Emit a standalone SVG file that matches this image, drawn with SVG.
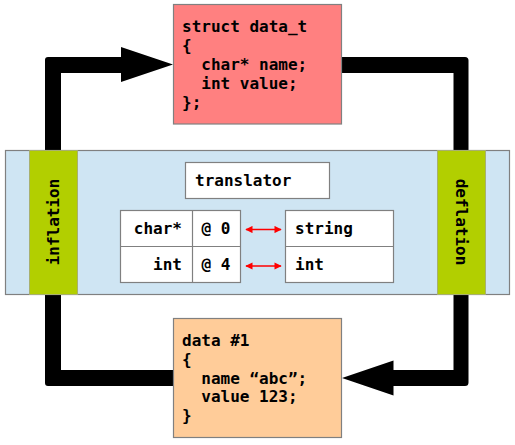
<svg xmlns="http://www.w3.org/2000/svg" width="515" height="445" viewBox="0 0 515 445">
<defs>
<style>
.t{font-family:"DejaVu Sans Mono","Liberation Mono",monospace;font-weight:bold;font-size:16px;fill:#000}
.box{stroke:#808080;stroke-width:1.2}
.cell{fill:#fff;stroke:#808080;stroke-width:1.2}
.flow{fill:#000}
.red{stroke:#ff0000;stroke-width:1.6;fill:none;marker-start:url(#ra);marker-end:url(#ra)}
</style>
<marker id="ra" viewBox="0 0 10 10" refX="9" refY="5" markerWidth="6" markerHeight="4.5" orient="auto-start-reverse" markerUnits="strokeWidth">
<path d="M0,0 L10,5 L0,10 Z" fill="#ff0000"/>
</marker>
</defs>
<rect width="515" height="445" fill="#fff"/>
<g id="connectors">
<path class="flow" d="M45,151 L45,60 Q45,57 48,57 L121,57 L121,47 L173,64.5 L121,82 L121,73 L61,73 L61,151 Z"/>
<path class="flow" d="M342,57 L465,57 Q468.5,57 468.5,60.5 L468.5,151 L453.5,151 L453.5,73 L342,73 Z"/>
<path class="flow" d="M45,294 L45,383 Q45,386 48,386 L173,386 L173,370 L61,370 L61,294 Z"/>
<path class="flow" d="M468.5,294 L468.5,382.5 Q468.5,386 465,386 L393.5,386 L393.5,395.5 L342,378 L393.5,360.5 L393.5,370 L453.5,370 L453.5,294 Z"/>
</g>
<g id="struct">
<rect class="box" x="173.5" y="4.5" width="168" height="119.5" fill="#ff8080"/>
<text class="t" x="182" y="31.5">struct data_t</text>
<text class="t" x="182" y="50.5">{</text>
<text class="t" x="182" y="69.5" xml:space="preserve">  char* name;</text>
<text class="t" x="182" y="88.5" xml:space="preserve">  int value;</text>
<text class="t" x="182" y="107.5">};</text>
</g>
<g id="band">
<rect class="box" x="5.5" y="150.5" width="504" height="144" fill="#cfe5f3"/>
</g>
<g id="inflation">
<rect x="29.5" y="150.5" width="48" height="144" fill="#b2cf00" stroke="#a8b070" stroke-width="1"/>
<text class="t" transform="translate(53,222) rotate(-90)" text-anchor="middle" dy="5.5">inflation</text>
</g>
<g id="deflation">
<rect x="437.5" y="150.5" width="48" height="144" fill="#b2cf00" stroke="#a8b070" stroke-width="1"/>
<text class="t" transform="translate(461,222) rotate(90)" text-anchor="middle" dy="5.5">deflation</text>
</g>
<g id="translator">
<rect class="cell" x="185.5" y="162.5" width="144" height="36"/>
<text class="t" x="195" y="185.5">translator</text>
</g>
<g id="source-table">
<rect class="cell" x="120.5" y="210.5" width="120" height="72"/>
<line x1="120.5" y1="246.5" x2="240.5" y2="246.5" stroke="#808080" stroke-width="1.2"/>
<line x1="192.5" y1="210.5" x2="192.5" y2="282.5" stroke="#808080" stroke-width="1.2"/>
<text class="t" x="182" y="233.5" text-anchor="end">char*</text>
<text class="t" x="182" y="269.5" text-anchor="end">int</text>
<text class="t" x="201.5" y="233.5">@ 0</text>
<text class="t" x="201.5" y="269.5">@ 4</text>
</g>
<g id="target-table">
<rect class="cell" x="285.5" y="210.5" width="108" height="72"/>
<line x1="285.5" y1="246.5" x2="393.5" y2="246.5" stroke="#808080" stroke-width="1.2"/>
<text class="t" x="295" y="233.5">string</text>
<text class="t" x="295" y="269.5">int</text>
</g>
<g id="mappings">
<line class="red" x1="246" y1="229.5" x2="281" y2="229.5"/>
<line class="red" x1="246" y1="266" x2="281" y2="266"/>
</g>
<g id="data">
<rect class="box" x="173.5" y="318.5" width="168" height="119" fill="#ffcc99"/>
<text class="t" x="182" y="345.5">data #1</text>
<text class="t" x="182" y="364.5">{</text>
<text class="t" x="182" y="383.5" xml:space="preserve">  name “abc”;</text>
<text class="t" x="182" y="402" xml:space="preserve">  value 123;</text>
<text class="t" x="182" y="420.5">}</text>
</g>
</svg>
